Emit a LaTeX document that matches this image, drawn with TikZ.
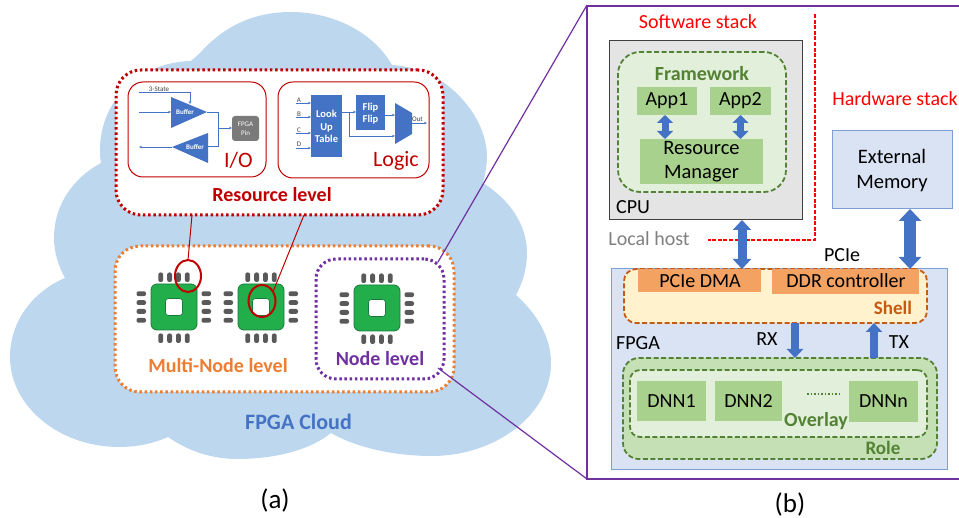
\documentclass[tikz,border=0pt]{standalone}
\usepackage{fontspec}
\setmainfont{Carlito}
\usetikzlibrary{arrows.meta,shapes.geometric,calc}
\definecolor{cloudblue}{HTML}{BDD7EE}
\definecolor{resred}{HTML}{C00000}
\definecolor{nodeorange}{HTML}{ED7D31}
\definecolor{nodepurple}{HTML}{7030A0}
\definecolor{chipgreen}{HTML}{22AE4B}
\definecolor{chipdark}{HTML}{17793A}
\definecolor{pingray}{HTML}{595959}
\definecolor{mainblue}{HTML}{4472C4}
\definecolor{lightgreen}{HTML}{E2EFDA}
\definecolor{midgreen}{HTML}{C5E0B4}
\definecolor{boxgreen}{HTML}{A9D18E}
\definecolor{dashgreen}{HTML}{548235}
\definecolor{lightblue}{HTML}{DAE3F3}
\definecolor{edgeblue}{HTML}{7C9FD8}
\definecolor{shellfill}{HTML}{FFF2CC}
\definecolor{shelledge}{HTML}{C55A11}
\definecolor{dmafill}{HTML}{F4A262}
\definecolor{cpufill}{HTML}{E4E4E4}
\newcommand{\bx}[6]{\node[#1,anchor=north west,minimum width={(#5-#3)*1pt},minimum height={(#6-#4)*1pt}] (#2) at (#3,#4) {};}
\newcommand{\chipat}[2]{%
  \begin{scope}[shift={(#1,#2)}]
    \foreach \d in {-13.3,-4.4,4.4,13.3}{
      \fill[pingray,rounded corners=2pt] (\d-2.4,-34.5) rectangle (\d+2.4,-25);
      \fill[pingray,rounded corners=2pt] (\d-2.4,26.5) rectangle (\d+2.4,36);
      \fill[pingray,rounded corners=2pt] (-37.5,\d-2.4) rectangle (-28,\d+2.4);
      \fill[pingray,rounded corners=2pt] (27.5,\d-2.4) rectangle (37,\d+2.4);
    }
    \draw[chipdark,fill=chipgreen,line width=.8pt,rounded corners=6pt] (-23,-23) rectangle (23,23);
    \draw[chipdark,fill=white,line width=.6pt,rounded corners=3pt] (-8.5,-8.5) rectangle (8.5,8.5);
  \end{scope}}
\tikzset{
  f18/.style={font=\fontsize{18}{22}\selectfont},
  f20/.style={font=\fontsize{20}{24.5}\selectfont},
  bold19/.style={font=\fontsize{19}{23}\selectfont\bfseries,inner sep=0pt},
  bold20/.style={font=\fontsize{20}{24}\selectfont\bfseries,inner sep=0pt},
  plainbox/.style={inner sep=0pt,outer sep=0pt},
  dotbox/.style={plainbox,draw=#1,fill=white,line width=3pt,dash pattern=on 2.5pt off 2.7pt},
  levelred/.style={plainbox,draw=resred,fill=white,line width=1pt,rounded corners=15pt},
  dashbox/.style={plainbox,line width=1.8pt,dash pattern=on 5pt off 2.5pt},
  flatgreen/.style={plainbox,fill=boxgreen},
  flatorange/.style={plainbox,fill=dmafill},
  wire/.style={mainblue,line width=.7pt},
  wirearrow/.style={wire,-{Stealth[length=3pt,width=2.5pt]}},
  fat/.style n args={3}{mainblue,line width=#1pt,-{Triangle[width=#2pt,length=#3pt]}},
  fatboth/.style n args={3}{mainblue,line width=#1pt,{Triangle[width=#2pt,length=#3pt]}-{Triangle[width=#2pt,length=#3pt]}},
  whitelabel/.style={font=\fontsize{10.5}{12.5}\selectfont\bfseries,text=white,align=center,inner sep=0pt},
  tiny blue/.style={font=\fontsize{7}{8}\selectfont\bfseries,text=white,align=center,inner sep=0pt},
  tiny dark/.style={font=\fontsize{7}{8}\selectfont,text=black!75,inner sep=0pt},
}
\begin{document}
\begin{tikzpicture}[x=1pt,y=-1pt]
\useasboundingbox (0,0) rectangle (959,518);
% cloud
\fill[cloudblue] (200,53)
  .. controls (225,25) and (255,12) .. (291,12)
  .. controls (330,12) and (372,30) .. (392,65)
  .. controls (410,66) and (426,72) .. (440,80)
  .. controls (470,100) and (487,130) .. (487,157)
  .. controls (487,165) and (485,175) .. (483,183)
  .. controls (510,200) and (527,225) .. (527,253)
  .. controls (527,268) and (523,282) .. (516,295)
  .. controls (538,315) and (551,338) .. (551,363)
  .. controls (551,415) and (495,456) .. (432,456)
  .. controls (395,456) and (357,448) .. (331,433)
  .. controls (310,450) and (275,459) .. (237,459)
  .. controls (212,459) and (188,451) .. (168,437)
  .. controls (152,444) and (136,447) .. (119,447)
  .. controls (60,447) and (10,407) .. (10,357)
  .. controls (10,322) and (32,292) .. (65,278)
  .. controls (58,265) and (54,252) .. (54,238)
  .. controls (54,205) and (73,178) .. (101,163)
  .. controls (100,158) and (100,154) .. (100,150)
  .. controls (100,100) and (140,62) .. (191,61)
  -- cycle;
\node[font=\fontsize{22}{26}\selectfont\bfseries,text=mainblue,inner sep=0pt] (cloudlabel) at (298.5,421.5) {FPGA Cloud};
\coordinate (zoomtl) at (587,5);
\coordinate (zoombl) at (587,479);
% resource level
\bx{dotbox=resred,rounded corners=25pt}{res}{116}{70}{443}{215}
\bx{levelred}{iobox}{128}{82}{266}{177}
\bx{levelred}{logicbox}{278}{82}{429}{178}
\node[bold20,text=resred] (reslabel) at (272,195) {Resource level};
\node[font=\fontsize{22}{26}\selectfont,text=resred,inner sep=0pt] (iolabel) at (238.5,160.5) {I/O};
\node[font=\fontsize{22}{26}\selectfont,text=resred,inner sep=0pt] (logiclabel) at (396,160.5) {Logic};
% I/O content
\fill[mainblue] (171,97) -- (171,128) -- (207,112) -- cycle;
\fill[mainblue] (208,133) -- (208,163) -- (172,147) -- cycle;
\bx{plainbox,fill=black!52,rounded corners=3pt}{pin}{232}{116}{259}{141}
\node[tiny blue,font=\fontsize{7}{9.5}\selectfont] (pintext) at (245.5,128.5) {FPGA\\Pin};
\node[tiny blue] (buf1) at (185,112) {Buffer};
\node[tiny blue] (buf2) at (195,147.5) {Buffer};
\node[tiny dark] (tristate) at (159,89) {3-State};
\coordinate (ts0) at (139,92);
\coordinate (ts1) at (190,92);
\coordinate (ts2) at (190,104);
\draw[wirearrow] (ts0) -- (ts1) -- (ts2);
\coordinate (in0) at (139,112);
\coordinate (in1) at (171,112);
\draw[wirearrow] (in0) -- (in1);
\coordinate (o0) at (207,112);
\coordinate (o1) at (218,112);
\coordinate (o2) at (218,146);
\coordinate (o3) at (208,146);
\draw[wire] (o0) -- (o1) -- (o2) -- (o3);
\coordinate (o4) at (218,128);
\draw[wirearrow] (o4) -- (o4 -| pin.west);
\coordinate (r0) at (172,147);
\coordinate (r1) at (139,147);
\draw[wirearrow] (r0) -- (r1);
% Logic content
\bx{plainbox,fill=mainblue}{lut}{311}{95}{342}{157}
\node[whitelabel] (luttext) at (326.5,126.5) {Look\\Up\\Table};
\bx{plainbox,fill=mainblue}{ff}{356}{95}{385}{130}
\node[whitelabel] (fftext) at (370.5,113.5) {Flip\\Flip};
\fill[mainblue] (395,103) -- (412,113) -- (412,134) -- (395,144) -- cycle;
\foreach \n/\lab/\yy/\ly in {a/A/103/100.7,b/B/117/114.3,c/C/133/130,d/D/148/144.7}{
  \coordinate (lin\n) at (296,\yy);
  \draw[wirearrow] (lin\n) -- (lin\n -| lut.west);
  \node[tiny dark] (lab\n) at (299,\ly) {\lab};
}
\coordinate (lo0) at (342,112);
\draw[wirearrow] (lo0) -- (lo0 -| ff.west);
\coordinate (lo1) at (349,112);
\coordinate (lo2) at (349,136);
\coordinate (lo3) at (395,136);
\draw[wirearrow] (lo1) -- (lo2) -- (lo3);
\coordinate (fo0) at (385,115);
\coordinate (fo1) at (395,115);
\draw[wirearrow] (fo0) -- (fo1);
\coordinate (mo0) at (412,123);
\coordinate (mo1) at (427,123);
\draw[wirearrow] (mo0) -- (mo1);
\node[tiny dark] (outlab) at (417.5,119.5) {Out};
% multi-node
\bx{dotbox=nodeorange,rounded corners=25pt}{multi}{115}{246}{454}{392}
\bx{dotbox=nodepurple,rounded corners=20pt}{single}{316}{259}{444}{379}
\chipat{174}{307}
\chipat{261}{307}
\chipat{377}{308}
\node[bold20,text=nodeorange] (multilabel) at (218,366) {Multi-Node level};
\node[bold20,text=nodepurple] (singlelabel) at (380,359) {Node level};
% red ellipses and links
\node[ellipse,draw=resred,line width=2pt,minimum width=26pt,minimum height=32pt,inner sep=0pt,outer sep=0pt] (e1) at (188,276) {};
\node[ellipse,draw=resred,line width=2pt,minimum width=27pt,minimum height=32pt,inner sep=0pt,outer sep=0pt] (e2) at (262,301) {};
\coordinate (l1) at (192,215);
\coordinate (l2) at (304,215);
\draw[resred,line width=1pt] (l1) -- (e1.north);
\draw[resred,line width=1pt] (l2) -- (e2.40);
% panel b frame
\coordinate (frtr) at (962,6);
\coordinate (frbr) at (962,479);
\draw[nodepurple,line width=2.6pt] (frtr) -- (587,6) -- (587,479) -- (frbr);
\coordinate (nodetop) at (438,262);
\coordinate (nodebot) at (438,368);
\draw[nodepurple,line width=1.2pt] (nodetop) -- (zoomtl);
\draw[nodepurple,line width=1.2pt] (nodebot) -- (zoombl);
% stacks
\node[f20,text=red,inner sep=0pt] (swlabel) at (698,22) {Software stack};
\node[f20,text=red,inner sep=0pt] (hwlabel) at (895,99) {Hardware stack};
\coordinate (sep0) at (815,14);
\coordinate (sep1) at (815,240);
\coordinate (sep2) at (708,240);
\draw[red,line width=1.1pt,dash pattern=on 4pt off 1.6pt] (sep0) -- (sep1) -- (sep2);
\node[f20,text=black!50,inner sep=0pt] (hostlabel) at (649,239) {Local host};
% CPU
\bx{plainbox,fill=cpufill,draw=black!75,line width=1pt}{cpu}{609}{41}{802}{220}
\bx{dashbox,fill=lightgreen,draw=dashgreen,rounded corners=22pt}{fw}{618}{52}{786}{192}
\node[bold20,text=dashgreen] (fwlabel) at (702,73.5) {Framework};
\bx{flatgreen}{app1}{637}{87}{697}{115}
\bx{flatgreen}{app2}{710}{87}{771}{115}
\bx{flatgreen}{rm}{640}{139}{763}{184}
\node[f20,inner sep=0pt] (app1t) at (app1) {App1};
\node[f20,inner sep=0pt] (app2t) at (app2) {App2};
\node[font=\fontsize{20.5}{24}\selectfont,align=center,inner sep=0pt] (rmt) at (701.5,162) {Resource\\Manager};
\coordinate (a1x) at (665,0);
\coordinate (a2x) at (740.5,0);
\draw[fatboth={7}{16}{8}] (a1x |- app1.south) -- (a1x |- rm.north);
\draw[fatboth={7}{16}{8}] (a2x |- app2.south) -- (a2x |- rm.north);
\node[f20,inner sep=0pt] (cpulabel) at (633,207) {CPU};
% External memory
\bx{plainbox,fill=lightblue,draw=edgeblue,line width=1pt}{ext}{832}{131}{952}{209}
\node[font=\fontsize{20.5}{25}\selectfont,align=center,inner sep=0pt] (extt) at (892,170.5) {External\\Memory};
% FPGA
\bx{plainbox,fill=lightblue,draw=edgeblue,line width=1pt}{fpga}{611}{269}{947}{470}
\bx{dashbox,fill=shellfill,draw=shelledge,rounded corners=12pt}{shell}{624}{269}{927}{323}
\bx{flatorange}{dma}{638}{269}{761}{292}
\bx{flatorange}{ddr}{772}{269}{919}{294}
\node[f20,inner sep=0pt] (dmat) at (700,281) {PCIe DMA};
\node[f20,inner sep=0pt] (ddrt) at (846,281) {DDR controller};
\node[bold19,text=shelledge] (shelllabel) at (893,308) {Shell};
\node[f20,inner sep=0pt] (fpgalabel) at (638,343) {FPGA};
\node[f20,inner sep=0pt] (rxlabel) at (767,339) {RX};
\node[f20,inner sep=0pt] (txlabel) at (899,342) {TX};
\node[f20,inner sep=0pt] (pcielabel) at (842,255) {PCIe};
\bx{dashbox,fill=midgreen,draw=dashgreen,rounded corners=16pt}{role}{623}{358}{937}{459}
\bx{dashbox,fill=lightgreen,draw=dashgreen,rounded corners=10pt}{overlay}{630}{370}{927}{437}
\bx{flatgreen}{dnn1}{637}{381}{706}{421}
\bx{flatgreen}{dnn2}{715}{381}{782}{421}
\bx{flatgreen}{dnnn}{849}{381}{918}{422}
\node[f20,inner sep=0pt] (d1t) at (dnn1) {DNN1};
\node[f20,inner sep=0pt] (d2t) at (dnn2) {DNN2};
\node[f20,inner sep=0pt] (dnt) at (dnnn) {DNNn};
\coordinate (dots0) at (807,394);
\coordinate (dots1) at (839,394);
\draw[dashgreen,line width=1.2pt,dash pattern=on 1.5pt off 2pt] (dots0) -- (dots1);
\node[bold20,text=dashgreen] (overlaylabel) at (816,421) {Overlay};
\node[bold19,text=dashgreen] (rolelabel) at (883,448) {Role};
% fat arrows
\coordinate (cpux) at (742,0);
\coordinate (memx) at (910,0);
\coordinate (rxx) at (795,0);
\coordinate (txx) at (874,0);
\draw[fatboth={9}{18}{10}] (cpux |- cpu.south) -- (cpux |- dma.north);
\draw[fatboth={12}{22}{12}] (memx |- ext.south) -- (memx |- ddr.north);
\draw[fat={7.5}{16}{9}] (rxx |- shell.south) -- (rxx |- role.north);
\draw[fat={7.5}{16}{9}] (txx |- role.north) -- (txx |- shell.south);
% captions
\node[font=\fontsize{27}{31}\selectfont,inner sep=0pt] (capa) at (275,500) {(a)};
\node[font=\fontsize{27}{31}\selectfont,inner sep=0pt] (capb) at (790,504) {(b)};
\end{tikzpicture}
\end{document}
